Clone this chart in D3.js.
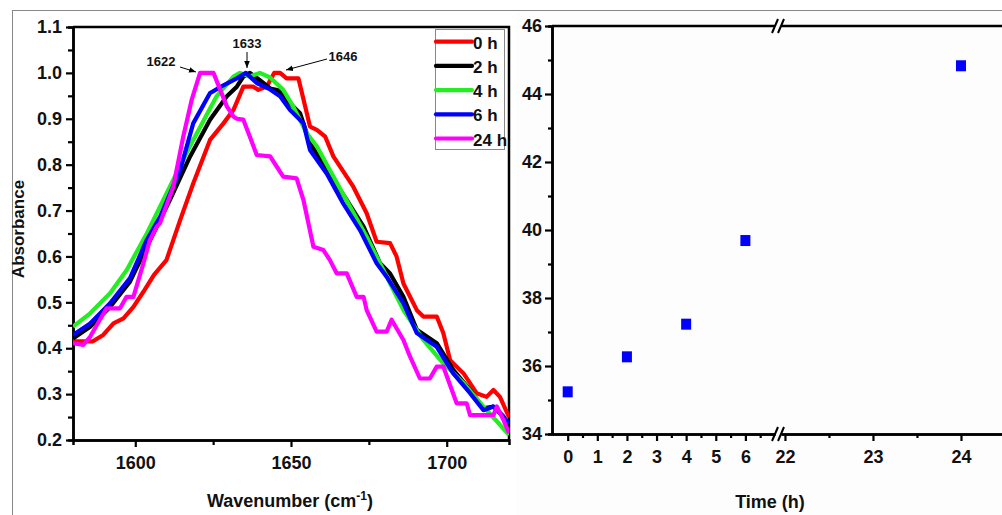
<!DOCTYPE html>
<html>
<head>
<meta charset="utf-8">
<script src="https://cdn.jsdelivr.net/npm/d3@7"></script>
<style>
  body { margin: 0; background: #fff; }
  text { font-family: "Liberation Sans Narrow", "Arial Narrow", "Liberation Sans", sans-serif; font-weight: bold; }
</style>
</head>
<body>
<script>
// ---- data ----
var series0h = [[1580,0.415],[1586.4,0.415],[1589.7,0.429],[1593,0.454],[1596.2,0.465],[1599.4,0.49],[1602.6,0.523],[1606,0.56],[1610,0.592],[1614.4,0.679],[1618.6,0.759],[1624,0.854],[1628.3,0.89],[1631.5,0.919],[1634.7,0.97],[1637.9,0.97],[1639.5,0.963],[1642.2,0.97],[1644.6,1.0],[1646.5,1.0],[1648.6,0.988],[1652.4,0.988],[1656.1,0.883],[1658.3,0.876],[1661,0.861],[1663.6,0.818],[1670,0.752],[1674.3,0.694],[1677.5,0.632],[1681.8,0.629],[1683.9,0.6],[1686.1,0.541],[1690.4,0.483],[1692.5,0.469],[1696.8,0.469],[1698.9,0.433],[1701.1,0.374],[1705.4,0.345],[1709.6,0.302],[1712.8,0.294],[1715,0.309],[1717.1,0.294],[1720,0.25]];
var series2h = [[1580,0.421],[1585.5,0.447],[1591.9,0.49],[1598.3,0.545],[1603.7,0.621],[1611.1,0.723],[1617.6,0.818],[1624,0.898],[1629.4,0.949],[1632.6,0.97],[1634.7,0.992],[1636.8,1.0],[1640,0.984],[1643.3,0.966],[1646,0.962],[1648.6,0.941],[1652.9,0.912],[1656.1,0.847],[1661.5,0.788],[1667.9,0.723],[1673.3,0.665],[1678.6,0.585],[1681.8,0.563],[1686.1,0.512],[1690.4,0.44],[1696.8,0.411],[1702.1,0.353],[1707.5,0.309],[1711.8,0.269],[1715,0.273],[1718.2,0.251],[1720,0.225]];
var series4h = [[1580,0.447],[1585.5,0.476],[1591.9,0.52],[1597.2,0.57],[1603.7,0.65],[1611.1,0.752],[1618.6,0.854],[1626.1,0.949],[1631.5,0.992],[1633.6,1.0],[1636.8,0.992],[1640,1.0],[1643.3,0.99],[1647.5,0.963],[1650.7,0.927],[1655,0.869],[1658.3,0.84],[1662.5,0.788],[1669,0.708],[1674.3,0.643],[1679.7,0.57],[1686.1,0.483],[1692.5,0.418],[1698.9,0.367],[1705.4,0.324],[1711.8,0.273],[1720,0.211]];
var series6h = [[1580,0.429],[1585.5,0.454],[1591.9,0.498],[1598.3,0.553],[1603.7,0.636],[1608,0.687],[1614.4,0.788],[1618.6,0.89],[1624,0.956],[1628.3,0.973],[1632.6,0.988],[1635.5,1.0],[1639,0.978],[1643.3,0.964],[1646.5,0.949],[1649.7,0.919],[1654,0.89],[1656.1,0.832],[1661.5,0.78],[1666.8,0.715],[1672.2,0.657],[1677.5,0.585],[1680.7,0.556],[1686.1,0.498],[1690.4,0.433],[1696.8,0.403],[1702.1,0.345],[1707.5,0.302],[1711.8,0.265],[1715,0.273],[1718.2,0.251],[1720,0.236]];
var series24h = [[1580,0.411],[1583.3,0.407],[1585.5,0.425],[1587.6,0.45],[1590.8,0.487],[1595.1,0.487],[1597.2,0.512],[1599.4,0.512],[1601.5,0.56],[1602.6,0.585],[1604.7,0.636],[1606.9,0.665],[1607.9,0.672],[1612.2,0.752],[1615.4,0.861],[1618.1,0.941],[1620.8,1.0],[1625.1,1.0],[1629.4,0.927],[1631.5,0.905],[1632.6,0.9],[1634.7,0.898],[1636.8,0.861],[1639,0.821],[1643.3,0.818],[1645.4,0.796],[1647.5,0.774],[1651.8,0.77],[1654,0.723],[1657.2,0.621],[1660.4,0.614],[1662.5,0.592],[1664.7,0.563],[1667.9,0.563],[1671.1,0.512],[1673.3,0.512],[1674.3,0.483],[1677.5,0.436],[1680.7,0.436],[1682.3,0.462],[1686.1,0.418],[1688.2,0.382],[1691.4,0.334],[1694.6,0.334],[1696.8,0.36],[1698.9,0.36],[1703.2,0.28],[1706.4,0.28],[1707.5,0.254],[1715,0.254],[1716.1,0.273],[1718.2,0.244],[1720,0.215]];

var seriesNames = ["0 h", "2 h", "4 h", "6 h", "24 h"];
var seriesColors = ["#ff0000", "#000000", "#22ee22", "#0000ff", "#ff00ff"];
var seriesData = [series0h, series2h, series4h, series6h, series24h];

var peakLabels = ["1622", "1633", "1646"];

var times = [0, 2, 4, 6, 24];
var timeValues = [35.24, 36.27, 37.23, 39.69, 44.83];

var leftYTicks = [0.2, 0.3, 0.4, 0.5, 0.6, 0.7, 0.8, 0.9, 1.0, 1.1];
var leftXTicks = [1600, 1650, 1700];
var rightYTicks = [34, 36, 38, 40, 42, 44, 46];
var rightXTicksA = [0, 1, 2, 3, 4, 5, 6];
var rightXTicksB = [22, 23, 24];

(function () {
    var width = 1002;
    var height = 515;

    var svg = d3.select("body").append("svg")
        .attr("width", width)
        .attr("height", height);

    // figure frame (grey)
    svg.append("rect").attr("x", 516).attr("y", 11).attr("width", 486).attr("height", 504).attr("fill", "#fdfdfd");
    svg.append("line").attr("x1", 12).attr("x2", width).attr("y1", 10.5).attr("y2", 10.5)
        .attr("stroke", "#888").attr("stroke-width", 1);
    svg.append("line").attr("x1", 12.5).attr("x2", 12.5).attr("y1", 10).attr("y2", height)
        .attr("stroke", "#888").attr("stroke-width", 1);

    // ---------- left panel ----------
    var L = { left: 73, right: 509, top: 27, bottom: 440 };
    var xL = d3.scaleLinear().domain([1580, 1720]).range([L.left, L.right]);
    var yL = d3.scaleLinear().domain([0.2, 1.1]).range([L.bottom, L.top]);

    function styleAxis(g, fs) {
        g.select(".domain").attr("stroke", "#000").attr("stroke-width", 2.5);
        g.selectAll(".tick line").attr("stroke", "#000").attr("stroke-width", 2.2);
        g.selectAll(".tick text").attr("fill", "#111").style("font-size", fs + "px")
            .style("font-family", '"Liberation Sans Narrow", "Arial Narrow", sans-serif').style("font-weight", "bold");
    }

    var gYmin = svg.append("g").attr("transform", "translate(" + L.left + ",0)")
        .call(d3.axisLeft(yL).tickValues(d3.range(0.25, 1.1, 0.1)).tickSize(5).tickFormat(""));
    styleAxis(gYmin, 17);
    var gY = svg.append("g").attr("transform", "translate(" + L.left + ",0)")
        .call(d3.axisLeft(yL).tickValues(leftYTicks).tickSize(7).tickSizeOuter(0).tickPadding(4).tickFormat(d3.format(".1f")));
    styleAxis(gY, 18);

    var gXmin = svg.append("g").attr("transform", "translate(0," + L.bottom + ")")
        .call(d3.axisBottom(xL).tickValues([1625, 1675]).tickSize(5).tickFormat(""));
    styleAxis(gXmin, 17);
    var gX = svg.append("g").attr("transform", "translate(0," + L.bottom + ")")
        .call(d3.axisBottom(xL).tickValues(leftXTicks).tickSize(7).tickSizeOuter(0).tickPadding(9).tickFormat(d3.format("d")));
    styleAxis(gX, 18);

    // top and right frame
    svg.append("path")
        .attr("d", "M" + L.left + "," + L.top + "H" + L.right + "V" + L.bottom)
        .attr("fill", "none").attr("stroke", "#000").attr("stroke-width", 2.5);

    svg.append("clipPath").attr("id", "clipL").append("rect")
        .attr("x", L.left).attr("y", L.top).attr("width", L.right - L.left).attr("height", L.bottom - L.top);

    var line = d3.line().x(function (d) { return xL(d[0]); }).y(function (d) { return yL(d[1]); });
    svg.append("g").attr("clip-path", "url(#clipL)")
        .selectAll("path")
        .data(seriesData)
        .enter()
        .append("path")
        .attr("d", line)
        .attr("fill", "none")
        .attr("stroke", function (d, i) { return seriesColors[i]; })
        .attr("stroke-width", 4.2)
        .attr("stroke-linejoin", "round");

    // peak annotations
    var defs = svg.append("defs");
    defs.append("marker").attr("id", "arrow").attr("viewBox", "0 0 10 10")
        .attr("refX", 10).attr("refY", 5).attr("markerWidth", 7).attr("markerHeight", 7)
        .attr("orient", "auto")
        .append("path").attr("d", "M0,1L10,5L0,9Z").attr("fill", "#000");

    var annos = [
        { t: peakLabels[0], tx: 161, ty: 66, x1: 180, y1: 67, x2: 196, y2: 72 },
        { t: peakLabels[1], tx: 247, ty: 48, x1: 247, y1: 52, x2: 247, y2: 68 },
        { t: peakLabels[2], tx: 343, ty: 61, x1: 327, y1: 59, x2: 286, y2: 70 }
    ];
    annos.forEach(function (a) {
        svg.append("text").attr("x", a.tx).attr("y", a.ty).attr("text-anchor", "middle")
            .style("font-size", "13px").attr("fill", "#111").text(a.t);
        svg.append("line").attr("x1", a.x1).attr("y1", a.y1).attr("x2", a.x2).attr("y2", a.y2)
            .attr("stroke", "#000").attr("stroke-width", 1).attr("marker-end", "url(#arrow)");
    });

    // legend
    var leg = svg.append("g");
    leg.append("rect").attr("x", 435.5).attr("y", 29.5).attr("width", 69).attr("height", 120)
        .attr("fill", "#fff").attr("stroke", "#888").attr("stroke-width", 1);
    seriesNames.forEach(function (n, i) {
        var y = 41.7 + i * 24.2;
        leg.append("line").attr("x1", 436).attr("x2", 472).attr("y1", y).attr("y2", y)
            .attr("stroke", seriesColors[i]).attr("stroke-width", 4.2).attr("stroke-linecap", "round");
        leg.append("text").attr("x", 473).attr("y", y + 7).style("font-size", "17px").attr("fill", "#111").text(n);
    });

    svg.append("text").attr("transform", "translate(24,229) rotate(-90)").attr("text-anchor", "middle")
        .style("font-size", "17px").style("font-family", '"Liberation Sans", Arial, sans-serif').attr("fill", "#111").text("Absorbance");
    var xt = svg.append("text").attr("x", 290).attr("y", 507).attr("text-anchor", "middle")
        .style("font-size", "18px").attr("fill", "#111");
    xt.append("tspan").text("Wavenumber (cm");
    xt.append("tspan").attr("dy", -7).style("font-size", "12px").text("-1");
    xt.append("tspan").attr("dy", 7).text(")");

    // ---------- right panel ----------
    var R = { left: 552, top: 26, bottom: 434, brk: 778 };
    var yR = d3.scaleLinear().domain([34, 46]).range([R.bottom, R.top]);
    var xA = d3.scaleLinear().domain([-0.53, 7.0]).range([R.left, 775]);
    var xB = d3.scaleLinear().domain([21.955, 24.466]).range([781, 1002]);
    function xR(t) { return t > 10 ? xB(t) : xA(t); }

    var gRYmin = svg.append("g").attr("transform", "translate(" + R.left + ",0)")
        .call(d3.axisLeft(yR).tickValues([35, 37, 39, 41, 43, 45]).tickSize(4).tickFormat(""));
    styleAxis(gRYmin, 17);
    var gRY = svg.append("g").attr("transform", "translate(" + R.left + ",0)")
        .call(d3.axisLeft(yR).tickValues(rightYTicks).tickSize(7).tickSizeOuter(0).tickPadding(3).tickFormat(d3.format("d")));
    styleAxis(gRY, 18);

    var gRA = svg.append("g").attr("transform", "translate(0," + R.bottom + ")")
        .call(d3.axisBottom(xA).tickValues(d3.range(0.5, 7, 1)).tickSize(4).tickSizeOuter(0).tickFormat(""));
    styleAxis(gRA, 17);
    var gRA2 = svg.append("g").attr("transform", "translate(0," + R.bottom + ")")
        .call(d3.axisBottom(xA).tickValues(rightXTicksA).tickSize(7).tickSizeOuter(0).tickPadding(9).tickFormat(d3.format("d")));
    styleAxis(gRA2, 18);
    var gRB = svg.append("g").attr("transform", "translate(0," + R.bottom + ")")
        .call(d3.axisBottom(xB).tickValues([22.5, 23.5]).tickSize(4).tickSizeOuter(0).tickFormat(""));
    styleAxis(gRB, 17);
    var gRB2 = svg.append("g").attr("transform", "translate(0," + R.bottom + ")")
        .call(d3.axisBottom(xB).tickValues(rightXTicksB).tickSize(7).tickSizeOuter(0).tickPadding(9).tickFormat(d3.format("d")));
    styleAxis(gRB2, 18);

    // top line with break
    svg.append("line").attr("x1", R.left).attr("x2", 775).attr("y1", R.top).attr("y2", R.top)
        .attr("stroke", "#000").attr("stroke-width", 2.5);
    svg.append("line").attr("x1", 781).attr("x2", 1002).attr("y1", R.top).attr("y2", R.top)
        .attr("stroke", "#000").attr("stroke-width", 2.5);
    [R.top, R.bottom].forEach(function (y) {
        [-3, 3].forEach(function (dx) {
            svg.append("line")
                .attr("x1", R.brk + dx - 3).attr("y1", y + 7)
                .attr("x2", R.brk + dx + 3).attr("y2", y - 7)
                .attr("stroke", "#000").attr("stroke-width", 2);
        });
    });

    svg.append("g").selectAll("rect")
        .data(times)
        .enter()
        .append("rect")
        .attr("x", function (d) { return xR(d) - 5; })
        .attr("y", function (d, i) { return yR(timeValues[i]) - 5.5; })
        .attr("width", 10)
        .attr("height", 11)
        .attr("fill", "#0000ff");

    svg.append("text").attr("x", 770).attr("y", 508).attr("text-anchor", "middle")
        .style("font-size", "18px").attr("fill", "#111").text("Time (h)");
})();
</script>
</body>
</html>
